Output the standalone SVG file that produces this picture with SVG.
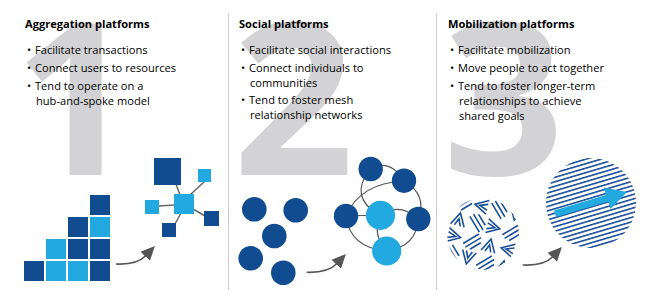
<svg xmlns="http://www.w3.org/2000/svg" width="646" height="302" viewBox="0 0 646 302">
<defs>
<style>
.num{font-family:"Open Sans",sans-serif;font-weight:700;font-size:212px;fill:#d3d3d5}
.ttl{font-family:"Open Sans",sans-serif;font-weight:700;font-size:11.1px;fill:#000}
.txt{font-family:"Open Sans",sans-serif;font-size:11.1px;fill:#000}
.dk{fill:#114c91}
.lt{fill:#22a9e0}
.div{stroke:#cfcfcf;stroke-width:1}
.spoke{stroke:#666;stroke-width:1.5;fill:none}
.mesh{stroke:#555;stroke-width:1.2;fill:none}
.arr{stroke:#555;stroke-width:1.6;fill:none;marker-end:url(#ah)}
.pat{stroke:#1a4f9a;stroke-width:1.6;fill:none;stroke-linecap:butt;stroke-linejoin:miter}
</style>
<marker id="ah" markerUnits="userSpaceOnUse" markerWidth="14" markerHeight="14" refX="1" refY="6" orient="auto" viewBox="0 0 13 12">
<path d="M0,0 L13,6 L0,12 z" fill="#555"/>
</marker>
<clipPath id="cl1"><circle cx="483" cy="234" r="36"/></clipPath>
<pattern id="stripes" patternUnits="userSpaceOnUse" width="10" height="4.3" patternTransform="rotate(-16.5)">
<rect x="0" y="0" width="10" height="1.6" fill="#1a4f9a"/>
</pattern>
</defs>
<rect width="646" height="302" fill="#fff"/>
<g id="dividers">
<line class="div" x1="228.5" y1="13" x2="228.5" y2="290"/>
<line class="div" x1="436.5" y1="13" x2="436.5" y2="290"/>
</g>
<g id="numerals">
<text class="num" x="14" y="175">1</text>
<text class="num" x="233" y="175">2</text>
<text class="num" x="443" y="175">3</text>
</g>
<g id="panel1-text">
<text class="ttl" x="25" y="28">Aggregation platforms</text>
<text class="txt" x="27" y="54">•</text><text class="txt" x="35" y="54">Facilitate transactions</text>
<text class="txt" x="27" y="72">•</text><text class="txt" x="35" y="72">Connect users to resources</text>
<text class="txt" x="27" y="90">•</text><text class="txt" x="35" y="90">Tend to operate on a</text>
<text class="txt" x="36" y="105">hub-and-spoke model</text>
</g>
<g id="panel2-text">
<text class="ttl" x="239" y="28">Social platforms</text>
<text class="txt" x="241" y="54">•</text><text class="txt" x="249" y="54">Facilitate social interactions</text>
<text class="txt" x="241" y="72">•</text><text class="txt" x="249" y="72">Connect individuals to</text>
<text class="txt" x="250" y="87">communities</text>
<text class="txt" x="241" y="104">•</text><text class="txt" x="249" y="104">Tend to foster mesh</text>
<text class="txt" x="250" y="119">relationship networks</text>
</g>
<g id="panel3-text">
<text class="ttl" x="448" y="28">Mobilization platforms</text>
<text class="txt" x="450" y="54">•</text><text class="txt" x="458" y="54">Facilitate mobilization</text>
<text class="txt" x="450" y="72">•</text><text class="txt" x="458" y="72">Move people to act together</text>
<text class="txt" x="450" y="90">•</text><text class="txt" x="458" y="90">Tend to foster longer-term</text>
<text class="txt" x="459" y="105">relationships to achieve</text>
<text class="txt" x="459" y="120">shared goals</text>
</g>
<g id="connectors">
<path class="arr" d="M116,264 Q137,265 146,255.5"/>
<path class="arr" d="M306.7,272.3 Q328,273 337,263.5"/>
<path class="arr" d="M522.7,265 Q544,266 553,256.5"/>
<g id="spokes">
<line class="spoke" x1="176" y1="184" x2="180" y2="195"/>
<line class="spoke" x1="205" y1="181" x2="190" y2="195"/>
<line class="spoke" x1="158" y1="206" x2="175" y2="205"/>
<line class="spoke" x1="193" y1="209" x2="205" y2="216"/>
<line class="spoke" x1="175" y1="224" x2="181" y2="213"/>
</g>
<g id="mesh">
<path class="mesh" d="M370,169 Q390,158 404,181"/>
<path class="mesh" d="M370,169 Q348,198 380,215"/>
<path class="mesh" d="M404,181 Q360,183 346,216"/>
<path class="mesh" d="M404,181 Q428,195 418,219"/>
<path class="mesh" d="M346,216 L380,215"/>
<path class="mesh" d="M380,215 Q400,202 418,219"/>
<path class="mesh" d="M346,216 Q350,248 387,251"/>
<path class="mesh" d="M418,219 Q417,246 387,251"/>
<path class="mesh" d="M380,215 Q372,236 387,251"/>
</g>
</g>
<g id="stack">
<rect class="dk" x="24" y="261" width="20" height="20"/>
<rect class="lt" x="46" y="261" width="20" height="20"/>
<rect class="lt" x="68" y="261" width="20" height="20"/>
<rect class="dk" x="90" y="261" width="20" height="20"/>
<rect class="lt" x="46" y="239" width="20" height="20"/>
<rect class="dk" x="68" y="239" width="20" height="20"/>
<rect class="dk" x="90" y="239" width="20" height="20"/>
<rect class="dk" x="68" y="217" width="20" height="20"/>
<rect class="lt" x="90" y="217" width="20" height="20"/>
<rect class="dk" x="90" y="195" width="20" height="20"/>
</g>
<g id="hub">
<rect class="dk" x="154" y="158" width="27" height="27"/>
<rect class="lt" x="198" y="169" width="13" height="13"/>
<rect class="lt" x="174" y="194" width="20" height="20"/>
<rect class="lt" x="145" y="200" width="14" height="14"/>
<rect class="dk" x="204" y="211" width="15" height="15"/>
<rect class="dk" x="162" y="223" width="14" height="14"/>
</g>
<g id="scattered">
<circle class="dk" cx="254.3" cy="209.3" r="12.3"/>
<circle class="dk" cx="295.7" cy="210.3" r="12.3"/>
<circle class="dk" cx="274.3" cy="236" r="12.3"/>
<circle class="dk" cx="250.7" cy="258.3" r="12.3"/>
<circle class="dk" cx="283.3" cy="272.7" r="12.3"/>
</g>
<g id="network">
<circle class="dk" cx="370.7" cy="169" r="12.2"/>
<circle class="dk" cx="404" cy="180.7" r="12.2"/>
<circle class="dk" cx="346" cy="216" r="12.2"/>
<circle class="lt" cx="380.5" cy="215.3" r="14.6"/>
<circle class="dk" cx="418.3" cy="219" r="12.2"/>
<circle class="lt" cx="386.7" cy="251" r="14.6"/>
</g>
<g id="scrambled" clip-path="url(#cl1)">
<g transform="rotate(14 483 234)">
<path class="pat" d="M448,212 L461,199 M451,215 L464,202 M456,216 L465,207 M481,200 L468,207 L481,214 M481,204 L473,207 L481,210 M484,202 L497,215 M487,199 L500,212 M492,198 L501,207 M503,200 L510,213 L517,200 M507,200 L510,207 L513,200
M449,232 L456,219 L463,232 M453,232 L456,225 L459,232 M466,220 L479,233 M469,217 L482,230 M474,216 L483,225 M485,218 L498,225 L485,232 M485,222 L493,225 L485,228 M502,230 L515,217 M505,233 L518,220 M510,234 L519,225
M449,236 L462,243 L449,250 M449,240 L457,243 L449,246 M466,248 L479,235 M469,251 L482,238 M474,252 L483,243 M485,250 L492,237 L499,250 M489,250 L492,243 L495,250 M517,236 L504,243 L517,250 M517,240 L509,243 L517,246
M448,256 L461,269 M451,253 L464,266 M456,252 L465,261 M467,254 L474,267 L481,254 M471,254 L474,261 L477,254 M484,266 L497,253 M487,269 L500,256 M492,270 L501,261 M503,268 L510,255 L517,268 M507,268 L510,261 L513,268
M440,226 L447,214 M441,246 L446,262 M520,222 L526,240 M522,248 L516,262 M470,192 L490,194 M474,276 L494,274"/>
</g>
</g>
<g id="stripes-circle">
<circle cx="591" cy="203" r="45" fill="url(#stripes)"/>
<path d="M554,210.5 L606,195.1 L603.8,187.6 L627,192 L610.6,209.1 L608.4,201.6 L556,217 z" class="lt"/>
</g>
</svg>
